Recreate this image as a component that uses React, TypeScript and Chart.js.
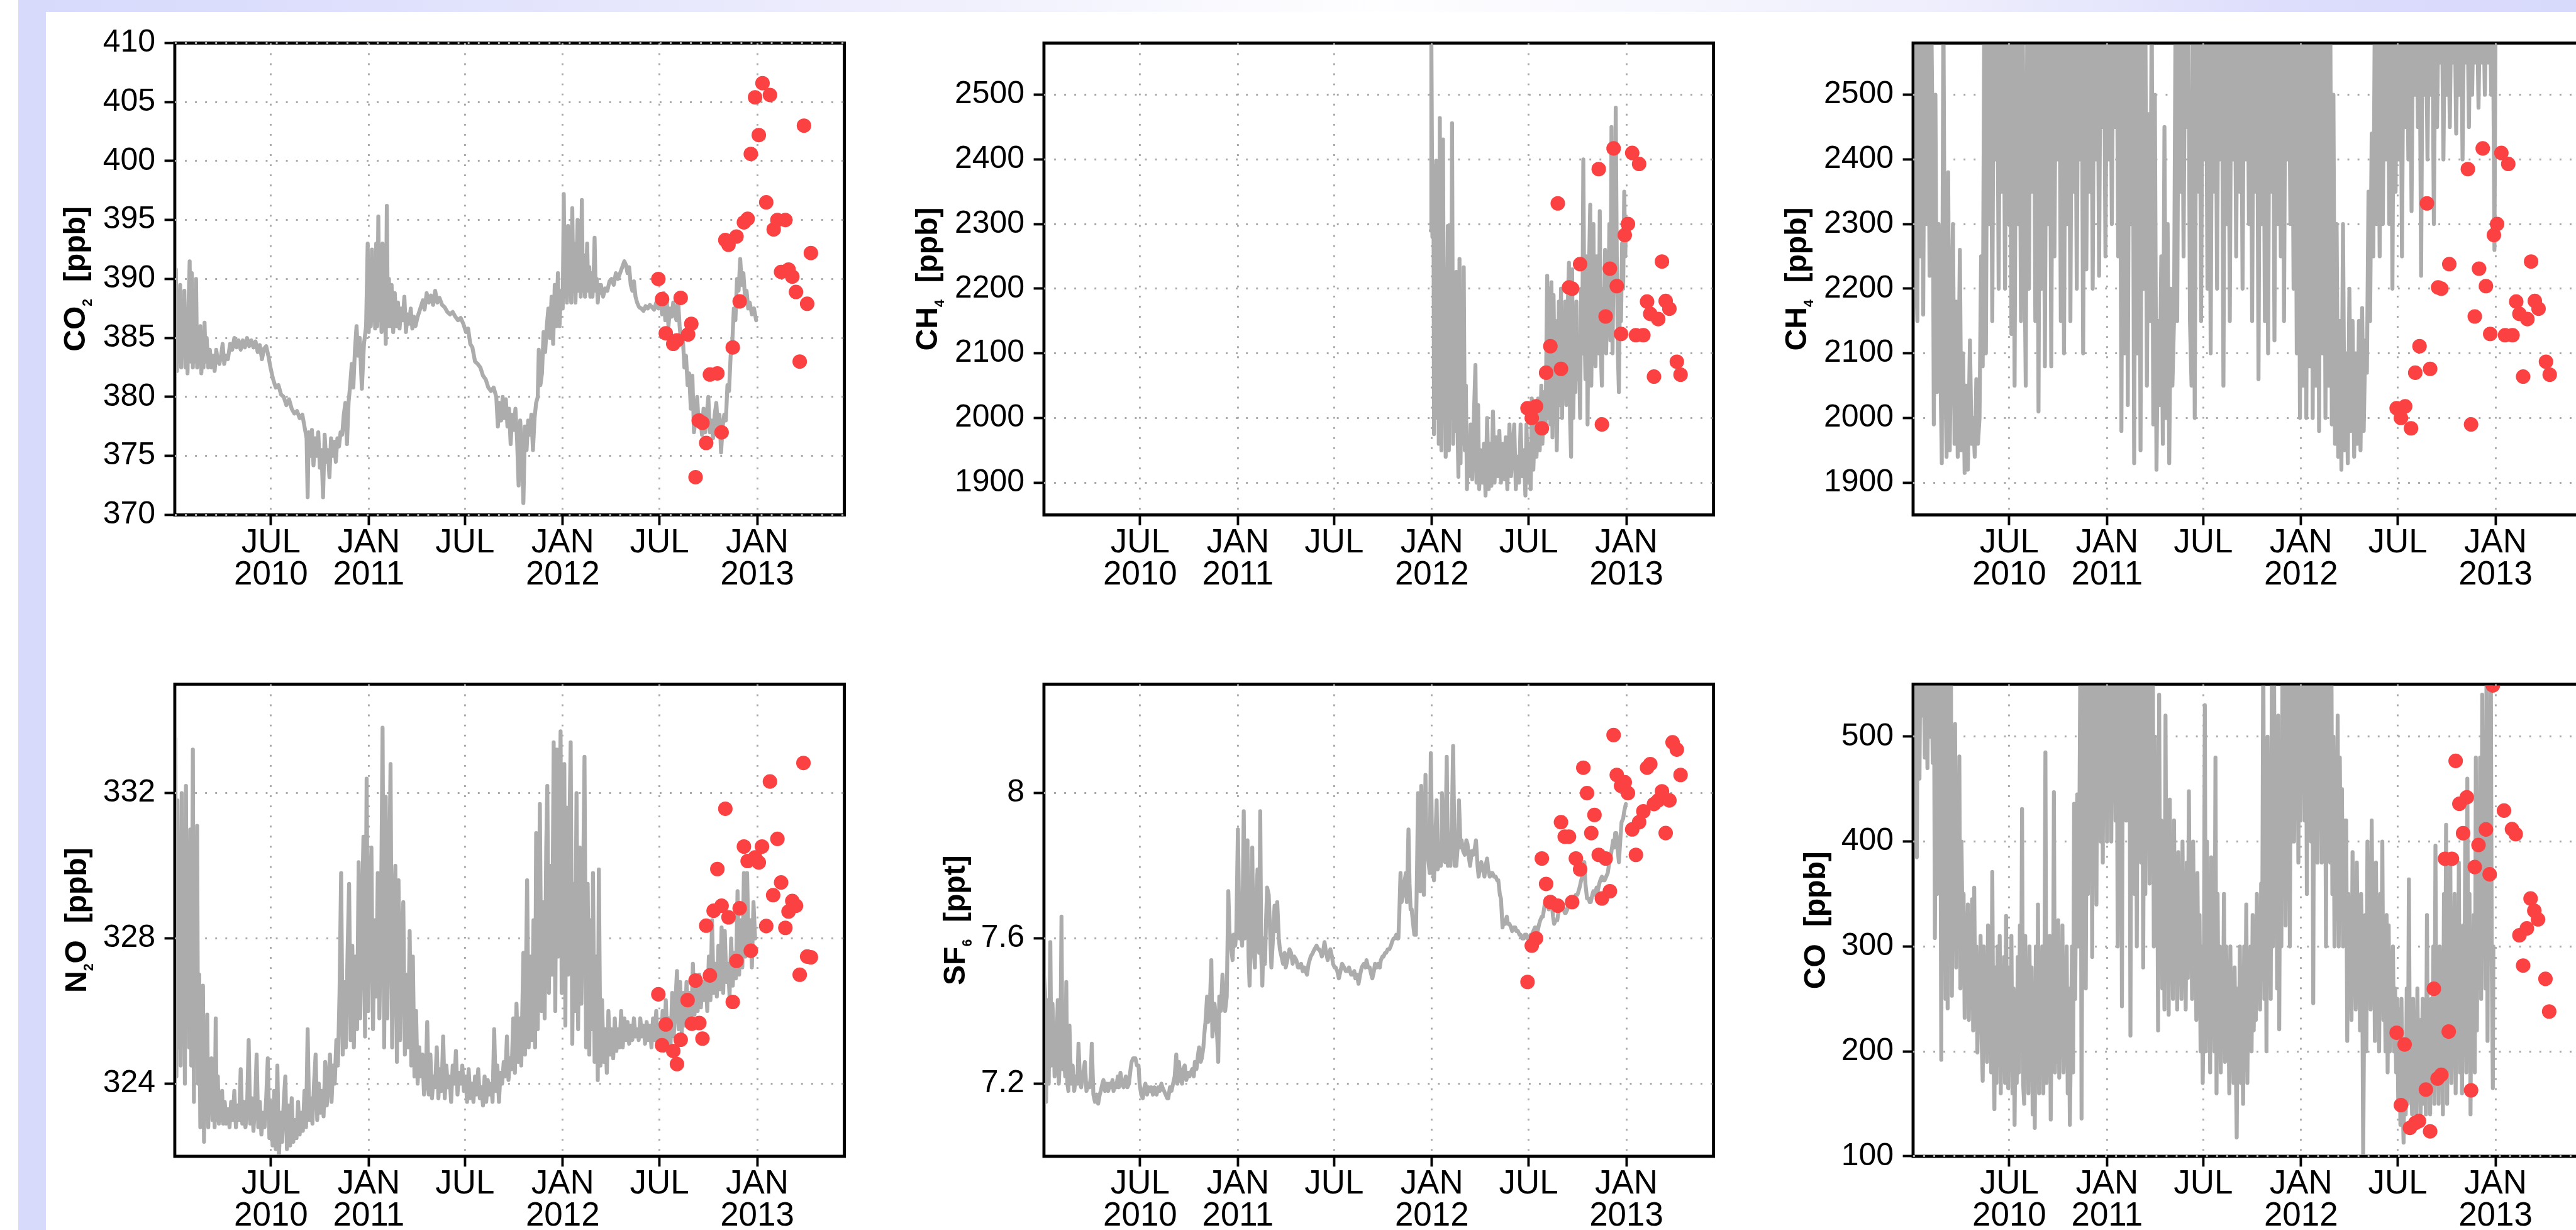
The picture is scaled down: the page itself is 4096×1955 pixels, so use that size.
import React, { useEffect, useRef } from 'react';
import { Chart, registerables } from 'chart.js';

Chart.register(...registerables);

const S = 4096 / 4259;
const FONT = '"Liberation Sans", Arial, Helvetica, sans-serif';
const GRAY = '#acacac';
const RED = '#fb4141';
const GRID = '#a9a9a9';
const LAV = '#d8dafc';

// layout in reference pixels
const COL_LEFT = [289, 1726, 3163];
const ROW_TOP = [70, 1130];
const PLOT_W = 1107;
const PLOT_H = 781;

// x axis: days since 2010-01-01
const X_MIN = 0;
const X_MAX = 1260;
const X_TICK_DAYS = [181, 365, 546, 730, 912, 1096];
const X_TICK_LABELS: (string | string[])[] = [['JUL', '2010'], ['JAN', '2011'], 'JUL', ['JAN', '2012'], 'JUL', ['JAN', '2013']];

// y ticks
const CO2_TICKS = [370, 375, 380, 385, 390, 395, 400, 405, 410];
const CH4_TICKS = [1900, 2000, 2100, 2200, 2300, 2400, 2500];
const N2O_TICKS = [324, 328, 332];
const SF6_TICKS = [7.2, 7.6, 8];
const CO_TICKS = [100, 200, 300, 400, 500];

// ---------- continuous records [day, value] ----------
const co2Line: [number, number][] = [
[0,386],[2,390.8],[4,382.2],[6,389],[8,383],[10,389.5],[12,382.5],[14,388],[16,383.5],[18,389],[20,382.5],[22,387],[24,382],[26,388],[28,391.5],[30,383],[32,390.5],[34,382.5],[36,388],[38,383],[40,390],[42,382.5],[44,385],[46,383],[48,386],[50,382],[52,384.5],[54,382.5],[56,386.3],[58,383],[60,385],
[63,382.5],[66,384],[69,382.5],[72,383.5],[75,382.2],[78,384],[81,383],[84,382.8],[87,383.5],[90,384.5],[93,382.8],[96,383.5],[100,383.2],
[104,384.5],[108,384],[112,385],[116,384.2],[120,384.8],[124,384],[128,384.8],[132,384.2],[136,385],[140,384.3],[144,384.8],[148,384.2],[152,384.7],[156,383.8],[160,384.4],[164,383.2],[168,384.1],[172,384.3],
[176,383.5],[180,382.5],[185,381.5],[190,380.8],[195,381],[200,380.2],[205,380],[210,379.3],[215,379.8],[220,379],[225,378.6],[230,378.8],[235,378.2],[240,378.5],[244,377.5],[248,376.5],[250,371.5],[252,377],
[255,375],[258,377.2],[261,374.2],[264,376.5],[267,375],[270,377],[273,374],[276,375.5],[279,371.5],[282,376.8],[285,374.5],[288,375.5],[291,373.2],[294,376.5],[297,375],[300,376.2],[303,374.5],[306,376.5],[309,375.8],[312,377],[315,376.8],
[318,378.5],[321,379.5],[324,376],[327,379.5],[330,381],[333,382.8],[336,380.8],[339,384],[342,386],[345,383.5],[348,385],[352,380.7],[356,384.5],[360,386],
[363,393],[365,385.5],[367,389],[369,386],[371,392.5],[373,386.5],[375,389],[377,385.8],[379,393],[381,386],[383,395.3],[385,386.5],[387,390],[389,385.5],[391,393],[393,386.5],[395,388.5],[397,384.5],[399,396.2],[401,386],[403,390],[405,386],[408,389.5],[411,385.5],[414,388.8],[417,386],[420,388],[423,385.8],[426,387.5],[429,386.5],[432,388.5],[435,385.5],[438,387],[441,386.2],[444,387.5],[447,385.8],[450,386.8],[453,386],
[457,386.8],[462,387.5],[467,388.2],[470,387.4],[474,388.8],[478,388],[482,388.6],[486,387.8],[490,389],[494,388],[498,388.4],[503,387.8],[508,387.6],[513,387.2],[518,387],[523,387.2],[528,386.8],[533,386.5],[538,386.7],[543,386.2],
[548,385.5],[552,385.8],[556,384.5],[560,384.2],[565,383],[570,382.8],[575,382.5],[580,381.8],[585,381.5],[590,380.8],[595,380.5],[600,380.8],[605,380],[608,377.5],
[611,379.5],[614,378],[617,380],[620,378.2],[623,379.8],[626,377.5],[629,379],[632,376],[635,378.5],[638,377.2],[641,379],[644,376.5],[647,372.5],[650,378],[653,375.5],[656,371],[659,377.5],[662,375.5],[665,378],[668,376.8],[671,378.5],[674,375.5],[677,378.2],[680,379.5],
[683,380],[685,384],[688,381],[691,382],[694,385.5],[697,383.8],[700,386],[703,387.5],[706,385],[709,388.5],[712,384.5],[715,389.5],[718,386],[721,390.5],[724,386],[727,389],[730,387.5],
[732,397.2],[734,388.5],[736,392],[738,388],[740,394.5],[742,389],[744,391],[746,388],[748,396],[750,389],[752,393],[754,388],[756,391.5],[758,395],[760,389],[762,392],[764,388.5],[766,396.7],[768,389],[770,392],[772,388.5],[774,390],[776,393],[778,389],[780,391],[782,388.5],[784,390.5],[786,388.5],[788,390],[790,393.5],[792,389],[794,390],[796,388],[798,389.5],[800,388.8],[802,389.5],
[806,388.5],[810,389.2],[814,389],[818,389.8],[822,390],[826,389.5],[830,390.5],[834,390],[838,390.5],[842,391],[846,391.5],[849,391.2],[852,390.5],[855,391],[858,389.5],[861,389],[864,389.8],[867,388.5],
[870,388],[874,387.6],[878,387.5],[882,387.3],[886,387.7],[890,387.5],[894,387.8],[898,387.6],[902,387.4],[906,388],[910,387.5],[914,388.3],
[917,387],[920,388.8],[923,386.5],[926,388],[929,386],[932,387.5],[935,386.8],[938,388],[941,387],[944,386.5],[947,388.3],[950,386],[953,384.5],[956,385],
[959,382.5],[962,383.5],[965,381],[968,382],[971,379],[974,381.8],[977,377],[980,378],[983,380],[986,377.5],[989,378.5],[992,376.8],[995,379],[998,377],[1001,378.5],[1004,380],[1007,377],[1010,378],[1013,376.5],[1016,378.5],[1019,379.5],[1022,377.5],[1025,378.5],[1028,375.3],[1031,377.5],[1034,378.5],[1037,378],
[1040,381],[1043,380.5],[1046,383.5],[1049,384.5],[1052,387.5],[1055,386.5],[1058,390],[1061,389],[1064,391.7],[1067,389.5],[1070,390.5],[1073,388.5],[1076,389],[1079,387.5],[1082,388],[1086,387],[1090,387.5],[1094,386.5]
];

const ch4LineA: [number, number][] = [
[728,2290],[729,2600],[731,2280],[733,2390],[734,1975],[736,2150],[738,2398],[740,2000],[742,2250],[743,1960],[745,2464],[747,2050],[748,1950],[750,2200],[751,2431],[753,2000],[755,2150],[756,1940],[758,2100],[760,2297],[762,1950],[764,2200],[766,2000],[768,2456],[770,1960],[772,2150],[774,1980],[776,2226],[778,2000],[780,1909],[782,2246],[784,1930],[786,2100],[788,1960],[790,2233],[792,1950],[794,2050],[796,1890],[798,1960],[800,1910],
[803,1990],[806,1905],[809,2000],[812,2082],[814,1900],[817,2020],[819,1890],[822,1950],[825,1900],[828,1960],[831,1880],[834,2000],[837,1890],[840,1960],[842,1895],[845,2010],[848,1900],[851,1970],[854,1910],[857,1980],[860,1900],[863,1960],[866,1905],[869,1970],[872,1890],[876,1990],[879,1910],[882,1950],[885,1990],[888,1890],[891,1940],[894,1900],[897,1990],[900,1910],[903,1950],[906,1880],[908,1990],[911,1900],[914,1960],[916,1890],[918,2030],[921,1920],[924,2000],[927,1940],[930,2030],[933,1950],
[936,2050],[938,1960],[941,2040],[944,1990],[947,2220],[949,2000],[951,2200],[953,1990],[955,2210],[957,1970],[959,2190],[961,2060],[963,2150],[965,1950],[967,2050],[969,2180],[971,2020],[973,2200],[975,2000],[977,2120],[979,2050],[981,2180],[983,2020],[985,2150],[988,2240],[990,2000],[992,1940],[994,2230],[996,2000],[998,2100],[1000,2040],[1002,2180],[1004,2060],[1007,2100],[1009,2000],[1011,2200],[1013,2100],[1015,2400],[1017,2150],[1019,2060],[1021,2250],[1023,1990],[1025,2200],[1028,2330],[1030,2050],[1032,2200],[1034,2300],[1036,2100],[1038,2080],[1040,2250],[1042,2150],[1044,2100],[1046,2320],[1048,2100],[1050,2050],[1052,2200],[1054,2150],[1056,2260],[1058,2100],[1060,2200],[1062,2150],[1064,2300],[1066,2120],[1068,2450],[1070,2100],[1072,2250],[1074,2200],[1076,2480],[1078,2250],[1080,2100],[1082,2040],[1084,2200],[1086,2150],[1088,2270],[1090,2200],[1092,2350],[1094,2250],[1095,2300]
];

const ch4LineB: [number, number][] = [
[0,2300],[2,2650],[5,2250],[8,2150],[10,2650],[13,2250],[16,2650],[19,2160],[22,2650],[25,2300],[28,2650],[31,2220],[34,2650],[37,2400],[39,1990],[42,2500],[45,2040],[48,2300],[51,2100],[54,1930],[57,2650],[60,2100],[63,1940],[66,2380],[69,1950],[72,2150],[75,2300],[78,1960],[81,2180],[84,1940],[88,2260],[91,1950],[94,2100],[97,1915],[100,2050],[103,1920],[107,2120],[110,1960],[113,2000],[116,1940],[119,2060],[122,1960],[125,2000],[128,2250],[131,2080],[134,2650],[137,2100],[140,2650],[143,2300],[146,2650],[149,2150],[152,2650],[155,2400],[158,2650],[161,2200],[164,2650],[167,2350],[170,2650],[173,2200],[176,2650],[179,2300],[182,2650],[185,2130],[188,2650],[191,2050],[194,2650],[197,2300],[200,2650],[203,2150],[206,2650],[209,2300],[212,2050],[215,2650],[218,2200],[221,2650],[224,2350],[227,2650],[230,2150],[233,2650],[236,2010],[239,2650],[242,2200],[245,2650],[248,2080],[251,2650],[254,2300],[257,2650],[260,2080],[263,2650],[266,2250],[269,2650],[272,2400],[275,2650],[278,2150],[281,2650],[284,2100],[287,2650],[290,2300],[293,2650],[296,2150],[299,2650],[302,2350],[305,2650],[308,2200],[311,2650],[314,2400],[317,2650],[320,2100],[323,2650],[326,2230],[329,2650],[332,2350],[335,2650],[338,2200],[341,2650],[344,2400],[347,2650],[350,2220],[353,2650],[356,2450],[359,2650],[362,2250],[365,2650],[368,2400],[371,2650],[374,2300],[377,2650],[380,2450],[383,2650],[386,2250],[389,2650],
[392,1980],[395,2650],[398,2100],[401,2650],[404,2020],[407,2650],[410,2300],[413,2650],[416,1930],[419,2650],[422,2100],[425,2650],[428,1950],[431,2650],[434,2200],[437,2650],[440,2050],[443,2470],[446,2150],[449,2650],[452,1990],[455,2500],[458,1920],[461,2150],[464,2020],[467,2250],[470,1960],[473,2450],[476,2000],[479,2300],[482,1930],[485,2200],[488,2050],[491,2150],[494,2650],
[497,2150],[500,2650],[503,2350],[506,2650],[509,2250],[512,2650],[515,2450],[518,2650],[521,2150],[524,2050],[527,2650],[530,2000],[533,2650],[536,2350],[539,2650],[542,2150],[545,2650],[548,2400],[551,2650],[554,2200],[557,2650],[560,2100],[563,2650],[566,2350],[569,2650],[572,2200],[575,2650],[578,2400],[581,2650],[584,2050],[587,2650],[590,2300],[593,2650],[596,2150],[599,2650],[602,2400],[605,2650],[608,2250],[611,2650],[614,2350],[617,2650],[620,2200],[623,2650],[626,2400],[629,2650],[632,2300],[635,2650],[638,2150],[641,2650],[644,2350],[647,2650],[650,2060],[653,2650],[656,2300],[659,2650],[662,2150],[665,2650],[668,2100],[671,2650],[674,2350],[677,2650],[680,2120],[683,2650],[686,2300],[689,2650],[692,2250],[695,2650],[698,2150],[701,2650],[704,2400],[707,2650],[710,2300],[713,2650],
[716,2200],[719,2650],[722,2100],[725,2650],[728,2000],[731,2650],[734,2050],[737,2650],[740,2000],[743,2650],[746,2080],[749,2650],[752,2000],[755,2650],[758,2050],[761,2650],[764,1980],[767,2650],[770,2100],[773,2650],[776,2000],[779,2650],[782,2050],[785,2650],[788,1990],[791,2500],[794,1960],[797,2300],[800,1940],[803,2150],[806,1920],[809,2300],[812,1950],[815,2100],[818,1930],[821,2200],[824,1980],[827,2150],[830,1940],[833,2100],[836,1960],[839,2150],[842,1950],[845,2170],[848,1980],[851,2120],[854,2070],
[857,2350],[860,2150],[863,2440],[866,2250],[869,2650],[872,2300],[875,2650],[878,2250],[881,2650],[884,2300],[887,2650],[890,2400],[893,2650],[896,2300],[899,2650],[902,2200],[905,2650],[908,2350],[911,2650],
[914,2400],[917,2650],[920,2250],[923,2650],[926,2450],[929,2650],[932,2400],[935,2650],[938,2320],[941,2650],[944,2500],[947,2650],[950,2450],[953,2650],[956,2220],[959,2650],[962,2500],[965,2650],[968,2400],[971,2650],[974,2500],[977,2650],[980,2300],[983,2650],[986,2450],[989,2650],[992,2550],[995,2650],[998,2400],[1001,2650],[1004,2500],[1007,2650],[1010,2450],[1013,2650],[1016,2550],[1019,2650],[1022,2440],[1025,2650],[1028,2500],[1031,2650],[1034,2400],[1037,2650],[1040,2550],[1043,2650],[1046,2450],[1049,2650],[1052,2500],[1055,2650],[1058,2550],[1061,2650],[1064,2480],[1067,2650],[1070,2550],[1073,2650],[1076,2500],[1079,2650],[1082,2550],[1085,2650],[1088,2500],[1091,2650],[1094,2260],[1096,2600]
];

const n2oLine: [number, number][] = [
[0,326],[1,333.5],[3,324.2],[5,331.8],[7,325],[9,330.5],[11,324.5],[13,332],[15,325.5],[17,329],[19,324],[21,332.2],[23,326],[25,330],[27,325],[29,331],[31,324.5],[34,333.2],[36,323.5],[38,329.5],[40,325],[42,331.1],[44,324],[46,327],[48,322.8],[50,326.5],
[51,323.5],[53,326.7],[55,322.4],[57,325.5],[59,323],[61,325.9],[63,322.8],[65,324.5],[67,323.5],[69,324.7],[71,323],[73,324],[75,322.8],[77,325.8],[79,323],[81,324.2],[83,322.9],[85,323.6],[87,323],[89,323.8],[91,322.9],
[94,323.5],[97,322.9],[100,323.3],[103,322.8],[106,323.5],[109,323],[112,323.8],[115,322.8],[118,323.4],[121,323],[124,324.4],[127,322.9],[130,323.5],[133,322.8],[136,323.3],[139,325.2],[142,322.9],[145,323.6],[148,322.7],[151,323.4],[154,324.8],[157,322.8],[160,323.5],[163,322.6],[166,323.2],[169,322.8],[172,323.6],[175,324.7],[178,322.5],[181,323.5],[184,322.3],[187,323.8],[190,322.2],[193,324.5],[196,322],[199,323.2],[202,322.4],[205,323.5],[208,324.2],[211,322.2],[214,323.4],[217,322.3],[220,323.6],[223,322.4],[226,323],[229,322.5],[232,323.5],[235,322.6],[238,323.2],[241,322.7],[244,323.8],[247,322.8],[250,325.5],[253,323],[256,323.6],[259,322.9],[262,324],[265,324.8],[268,323],[271,324],[274,323.2],[277,323.8],[280,323.1],[283,324.6],[286,323.4],[289,324],[292,324.8],[295,323.5],[298,324.5],
[301,324],[304,325.2],[307,324.5],[310,326.5],[313,329.8],[316,324.8],[319,326.8],[322,325],[325,327.5],[328,329.5],[331,325.2],[334,327.8],[337,325],[340,327.5],[343,325.5],[346,330.1],[349,325.8],[352,328.5],[355,330.8],[358,325.3],[361,332.4],[364,326],[367,329],[370,330.5],[373,325.5],[376,328.5],[379,326.4],[382,329.8],[385,325.8],[388,328.5],[391,333.8],[394,325],[397,331.9],[400,325.8],[403,329],[406,332.8],[409,325],[412,328],[415,330],[418,324.6],[421,329.6],[424,325.2],[427,328],[430,329],[433,324.8],[436,327],[439,325],[442,328.2],[445,324.5],[448,327.5],[451,324.2],[454,326],[457,324],[460,325],[463,324.2],[466,324.8],[469,323.7],
[472,324],[475,325.7],[478,323.7],[481,324.8],[484,323.6],[487,324.2],[490,323.9],[493,325],[496,323.6],[499,324.4],[502,323.8],[505,325.3],[508,323.6],[511,324.5],[514,323.9],[517,324.2],[520,323.5],[523,324.5],[526,324],[529,324.9],[532,323.7],[535,324.3],[538,324],[541,324.5],[544,323.8],[547,324.2],[550,323.5],[553,324.4],[556,323.6],[559,324],[562,323.5],[565,324.2],[568,323.7],[571,324.4],[574,323.6],[577,323.9],[580,323.4],[583,324.2],[586,323.5],[589,324.1],[592,323.7],[595,324],[598,323.5],[601,325.5],[604,323.8],[607,324.5],[610,323.5],[613,324.3],[616,324],[619,324.6],
[622,324.2],[625,325.3],[628,324.1],[631,324.7],[634,324.4],[637,325.8],[640,324.3],[643,326.2],[646,324.6],[649,325.8],[652,324.5],[656,327.6],[659,324.8],[663,329.6],[666,325],[669,327.5],[672,325.2],[675,328.5],[678,325],[680,330.9],[683,325.5],[687,331.7],[690,326],[693,329],[696,325.8],[699,330.5],[701,332.2],[704,326.5],[707,330],[710,327],[713,333.4],[716,326],[719,333.2],[721,327.5],[723,330.5],[726,333.7],[728,326.5],[731,330],[733,332.8],[735,325.6],[737,331.6],[740,327],[742,330.5],[745,333.4],[748,325.1],[751,329.5],[753,326],[756,332],[759,325.5],[762,330.5],[765,326.2],[768,329],[771,333],[774,325],[777,329.5],[780,324.8],[782,328.5],[785,325.5],[787,329.8],[790,324.6],[793,327.5],[796,324.1],[798,329.9],[801,324.5],
[804,326.3],[807,324.6],[810,325.5],[813,324.3],[816,326],[819,324.8],[822,325.5],[825,324.7],[828,325.8],[831,324.9],[834,325.5],[837,325],[840,326],[843,325],[846,325.8],[849,325.2],[852,325.7],[855,325.1],[858,325.6],[861,325.2],[864,325.8],[867,325.3],[870,325.5],[873,325.2],[876,325.8],[879,325.3],[882,325.6],[885,325.1],[888,325.7],[891,325.2],[894,325.6],[897,325],[900,325.8],[903,325.2],[906,326],[909,325],[912,325.6],
[915,325],[918,326],[921,324.9],[924,326.3],[927,325.2],[930,325.8],[933,325.1],[936,326.5],[939,325.3],[942,326.2],[945,327.1],[948,325.5],[951,326.8],[954,325.4],[957,326.5],[960,325.6],[963,326.8],[966,325.8],[969,326.5],[972,325.7],[975,327.3],[978,325.9],[981,326.7],[984,326],[987,327],[990,326.1],[993,326.8],[996,326.3],[999,327],[1002,326],[1005,327.5],[1008,326.3],[1011,328.5],[1014,326.5],[1017,327.3],[1020,326.4],[1023,327.8],[1026,326.6],[1029,328.3],[1032,326.5],[1035,328.2],[1038,326.8],[1041,327.3],[1044,326.4],[1047,328],[1050,326.7],[1053,327.6],[1056,326.9],[1059,329.3],[1062,327],[1065,328.5],[1068,327.2],[1071,329.8],[1074,327.5],[1077,329.8],[1080,327.6],[1083,328.5],[1086,327.2],[1089,329],[1092,328]
];

const sf6Line: [number, number][] = [
[0,7.5],[2,7.45],[4,7.15],[7,7.43],[9,7.2],[12,7.59],[14,7.25],[16,7.42],[18,7.35],[20,7.22],[23,7.26],[26,7.43],[28,7.2],[31,7.3],[33,7.66],[35,7.24],[37,7.29],[40,7.22],[42,7.48],[44,7.2],[46,7.18],[48,7.36],[51,7.2],[54,7.25],[57,7.18],[60,7.22],[63,7.2],[65,7.31],[68,7.2],[70,7.19],[73,7.22],[77,7.26],[80,7.18],[83,7.2],[86,7.19],[88,7.22],[90,7.31],[93,7.17],[96,7.15],[99,7.17],[102,7.145],[105,7.17],[107,7.18],[110,7.2],[112,7.21],[115,7.18],[118,7.2],[121,7.18],[123,7.2],[126,7.19],[129,7.21],[131,7.18],[133,7.2],[136,7.19],[139,7.22],[141,7.19],[144,7.23],[147,7.2],[150,7.19],[154,7.22],[157,7.19],[160,7.2],[163,7.24],[165,7.26],[168,7.27],[172,7.27],[175,7.25],[178,7.25],[180,7.2],[183,7.17],[186,7.16],[189,7.19],[191,7.2],[194,7.17],[197,7.19],[200,7.18],[202,7.19],[205,7.17],[208,7.19],[212,7.17],[215,7.19],[218,7.18],[221,7.2],[223,7.19],[226,7.18],[229,7.17],[232,7.16],[234,7.16],[237,7.19],[240,7.18],[243,7.2],[246,7.22],[249,7.28],[251,7.2],[254,7.26],[257,7.21],[260,7.2],[262,7.24],[265,7.25],[268,7.21],[271,7.23],[274,7.22],[276,7.23],[279,7.24],[282,7.22],[284,7.26],[287,7.24],[290,7.28],[292,7.3],[295,7.26],[297,7.27],[300,7.3],[302,7.34],[304,7.37],[307,7.44],[309,7.37],[311,7.39],[313,7.45],[315,7.54],[317,7.33],[319,7.37],[321,7.42],[323,7.39],[326,7.33],[328,7.26],[330,7.44],[333,7.4],[336,7.5],[338,7.45],[341,7.4],[344,7.44],[347,7.73],[349,7.62],[352,7.58],[355,7.54],[357,7.61],[360,7.58],[362,7.62],[365,7.9],[368,7.6],[370,7.63],[373,7.58],[376,7.95],[378,7.6],[381,7.62],[383,7.87],[385,7.55],[387,7.47],[389,7.6],[392,7.85],[394,7.58],[397,7.52],[399,7.7],[402,7.79],[405,7.56],[407,7.95],[409,7.55],[411,7.47],[413,7.6],[416,7.53],[418,7.65],[420,7.74],[423,7.72],[426,7.6],[428,7.52],[431,7.6],[434,7.69],[436,7.62],[439,7.7],[442,7.6],[444,7.57],[447,7.55],[450,7.53],[453,7.56],[455,7.52],[458,7.54],[462,7.57],[465,7.56],[468,7.53],[471,7.55],[475,7.54],[478,7.52],[481,7.52],[484,7.53],[487,7.51],[490,7.52],[495,7.5],[498,7.53],[502,7.55],[506,7.56],[509,7.57],[513,7.58],[516,7.57],[518,7.57],[521,7.56],[523,7.55],[526,7.57],[528,7.59],[531,7.56],[534,7.54],[537,7.56],[539,7.57],[542,7.55],[544,7.53],[547,7.52],[549,7.52],[552,7.51],[555,7.49],[558,7.51],[561,7.53],[565,7.52],[568,7.51],[571,7.51],[574,7.52],[578,7.5],[581,7.5],[584,7.51],[586,7.49],[589,7.5],[592,7.475],[595,7.5],[598,7.52],[602,7.53],[605,7.52],[607,7.54],[610,7.52],[613,7.52],[616,7.5],[618,7.49],[621,7.51],[623,7.53],[626,7.52],[629,7.53],[632,7.52],[634,7.54],[637,7.55],[639,7.55],[642,7.56],[644,7.56],[647,7.57],[650,7.57],[653,7.58],[655,7.59],[658,7.6],[660,7.6],[663,7.61],[665,7.6],[667,7.6],[669,7.68],[671,7.78],[673,7.7],[676,7.72],[678,7.75],[681,7.78],[683,7.7],[686,7.9],[688,7.75],[690,7.68],[692,7.68],[694,7.65],[697,7.61],[700,7.61],[702,7.78],[704,8.0],[706,7.8],[708,7.73],[710,8.02],[712,7.76],[715,7.72],[718,8.05],[720,7.85],[723,7.82],[726,7.78],[728,8.11],[731,7.8],[734,7.76],[736,7.85],[739,7.98],[741,7.79],[744,7.81],[747,7.8],[749,8.0],[752,7.82],[755,7.81],[758,8.1],[760,7.8],[762,7.81],[765,7.8],[768,7.95],[770,8.13],[773,7.8],[776,7.8],[779,7.86],[781,7.98],[784,7.85],[786,7.87],[789,7.84],[792,7.83],[795,7.87],[797,7.86],[800,7.82],[802,7.8],[805,7.84],[808,7.83],[811,7.85],[813,7.87],[816,7.8],[818,7.77],[821,7.8],[823,7.81],[826,7.79],[829,7.77],[831,7.8],[834,7.82],[836,7.79],[839,7.77],[842,7.78],[844,7.78],[847,7.77],[850,7.77],[853,7.76],[855,7.76],[858,7.72],[860,7.71],[863,7.63],[865,7.65],[868,7.64],[871,7.66],[873,7.64],[876,7.64],[879,7.63],[881,7.62],[884,7.63],[887,7.63],[889,7.62],[892,7.62],[895,7.61],[897,7.61],[900,7.6],[903,7.6],[905,7.61],[908,7.61],[910,7.6],[913,7.6],[916,7.61],[918,7.61],[921,7.62],[924,7.63],[926,7.63],[929,7.62],[932,7.64],[934,7.65],[937,7.66],[939,7.66],[942,7.69],[945,7.71],[947,7.7],[950,7.68],[952,7.7],[955,7.71],[958,7.66],[960,7.64],[963,7.65],[966,7.65],[968,7.67],[971,7.68],[974,7.69],[977,7.69],[980,7.67],[982,7.67],[985,7.68],[988,7.7],[990,7.7],[992,7.7],[995,7.7],[998,7.71],[1001,7.72],[1004,7.72],[1006,7.73],[1008,7.74],[1011,7.76],[1013,7.77],[1015,7.8],[1017,7.81],[1019,7.75],[1022,7.71],[1025,7.71],[1027,7.7],[1029,7.7],[1032,7.72],[1034,7.73],[1037,7.72],[1040,7.74],[1042,7.73],[1045,7.75],[1047,7.76],[1050,7.77],[1052,7.76],[1055,7.76],[1058,7.77],[1061,7.78],[1063,7.8],[1066,7.82],[1068,7.84],[1071,7.87],[1073,7.85],[1075,7.89],[1077,7.89],[1080,7.84],[1082,7.81],[1085,7.88],[1087,7.92],[1090,7.93],[1092,7.95],[1095,7.97]
];

const coLine: [number, number][] = [
[0,600],[2,400],[4,600],[7,385],[9,600],[12,460],[14,600],[17,520],[19,600],[22,480],[24,600],[27,470],[29,600],[32,500],[34,600],[37,475],[39,600],
[41,308],[43,470],[45,350],[47,600],[49,420],[51,550],[53,192],[55,600],[57,300],[59,600],[61,250],[63,600],[65,241],[67,480],[69,330],[71,600],[73,253],[75,450],[77,300],[79,512],[81,280],[83,460],[85,300],[87,481],[89,260],[91,400],[93,320],[95,350],
[97,232],[99,330],[101,260],[103,340],[105,230],[107,320],[109,280],[111,345],[113,220],[115,356],[117,240],[119,300],[121,199],[123,290],[125,230],[127,310],[129,210],[131,172],[133,300],[135,200],[137,280],[139,190],[141,320],[143,220],[145,260],[147,180],[149,371],[151,200],[153,145],[155,280],[157,170],[159,300],[161,190],[163,310],[165,160],[167,260],[169,200],[171,290],[173,170],
[175,329],[177,200],[179,165],[181,280],[183,200],[185,310],[187,160],[189,260],[191,130],[193,250],[195,170],[197,290],[199,180],[201,320],[203,200],[205,431],[207,170],[209,150],[211,310],[213,200],[215,260],[217,160],[219,300],[221,190],[223,280],[225,140],[227,250],[229,127],[231,300],[233,180],[235,340],[237,160],[239,260],[241,200],[243,300],[245,160],[247,250],[249,485],[251,170],[253,290],[255,200],[257,310],[259,135],[261,260],[263,200],[265,447],[267,180],[269,300],[271,190],[273,325],[275,175],[277,280],[279,200],[281,320],[283,180],[285,250],[287,200],[289,300],[291,160],[293,260],[295,130],[297,210],[299,300],[301,180],
[303,436],[305,250],[307,380],[309,445],[311,300],[313,420],[315,600],[317,136],[319,410],[321,300],[323,600],[325,260],[327,520],[329,350],[331,600],[333,420],[335,600],[337,290],[339,600],[341,450],[343,600],[345,340],[347,600],[349,480],[351,600],[353,400],[355,600],[357,380],[359,600],[361,450],[363,600],[365,400],[367,600],[369,500],
[371,600],[373,400],[375,600],[377,470],[379,600],[381,420],[383,600],[385,300],[387,600],[389,480],[391,600],[393,243],[395,600],[397,430],[399,600],[401,420],[403,600],[405,500],[407,600],[409,215],[411,600],[413,450],[415,600],[417,350],[419,600],[421,300],[423,600],[425,460],[427,600],[429,380],[431,600],[433,280],[435,550],[437,350],[439,600],[441,420],[443,600],[445,360],[447,550],[449,420],[451,600],[453,300],[455,500],[457,350],[459,460],
[461,220],[463,540],[465,300],[467,420],[469,260],[471,380],[473,240],[475,520],[477,300],[479,400],[481,235],[483,440],[485,280],[487,360],[489,250],[491,420],[493,300],[495,380],[497,240],[499,390],[501,280],[503,350],[505,250],[507,400],[509,280],[511,330],[513,240],[515,380],[517,270],[519,448],[521,300],[523,360],[525,250],[527,400],[529,280],[531,350],[533,230],[535,370],[537,260],[539,330],[541,200],[543,300],[545,170],[547,250],
[549,530],[551,200],[553,400],[555,240],[557,330],[559,180],[561,385],[563,230],[565,300],[567,200],[569,480],[571,160],[573,350],[575,220],[577,300],[579,180],[581,280],[583,210],[585,350],[587,190],[589,300],[591,230],[593,270],[595,160],[597,300],[599,200],[601,250],[603,170],[605,280],[607,200],[609,118],[611,260],[613,200],[615,300],[617,170],[619,240],[621,150],[623,300],[625,200],[627,340],[629,170],[631,280],[633,210],[635,300],[637,200],[639,330],[641,220],[643,280],[645,230],[647,350],[649,250],[651,300],[653,240],[655,360],
[657,300],[659,600],[661,250],[663,450],[665,200],[667,500],[669,280],[671,420],[673,250],[675,550],[677,300],[679,600],[681,350],[683,470],[685,260],[687,520],[689,221],[691,450],[693,300],[695,550],[697,350],[699,600],[701,320],[703,500],[705,380],[707,600],[709,300],[711,550],[713,400],[715,600],
[717,400],[719,600],[721,450],[723,600],[725,380],[727,600],[729,420],[731,600],[733,480],[735,600],[737,420],[739,600],[741,350],[743,600],[745,450],[747,600],[749,400],[751,600],[753,246],[755,600],[757,430],[759,600],[761,380],[763,600],[765,500],[767,600],[769,380],[771,600],[773,420],[775,550],[777,300],[779,600],[781,400],[783,550],[785,380],[787,600],[789,350],[791,500],[793,300],[795,450],[797,380],[799,520],[801,300],[803,480],[805,350],[807,450],[809,300],[811,420],[813,330],
[815,420],[817,210],[819,350],[821,280],[823,340],[825,230],[827,390],[829,260],[831,320],[833,240],[835,380],[837,280],[839,330],[841,220],[843,350],[845,300],[847,100],[849,250],[851,330],[853,200],[855,400],[857,280],[859,380],[861,240],[863,420],[865,300],[867,350],[869,210],[871,380],[873,260],[875,320],[877,200],[879,350],[881,250],[883,400],[885,230],[887,300],[889,200],[891,330],[893,180],[895,320],[897,200],[899,280],[901,240],[903,300],[905,200],[907,260],[909,180],[911,250],[913,150],
[915,240],[917,130],[919,250],[921,160],[923,113],[925,200],[927,140],[929,260],[931,150],[933,364],[935,170],[937,200],[939,140],[941,250],[943,160],[945,210],[947,130],[949,260],[951,170],[953,230],[955,140],[957,180],[959,250],[961,150],[963,200],[965,140],[967,330],[969,160],[971,230],[973,140],[975,250],[977,180],[979,300],[981,150],[983,396],[985,170],[987,230],[989,150],[991,300],[993,180],[995,260],[997,140],[999,350],[1001,200],[1003,416],[1005,150],[1007,300],[1009,200],[1011,380],[1013,170],[1015,260],[1017,200],[1019,350],[1021,160],[1023,300],[1025,200],[1027,380],[1029,180],[1031,280],[1033,160],[1035,320],[1037,200],[1039,400],[1041,180],[1043,460],[1045,220],[1047,350],[1049,140],[1051,300],[1053,200],[1055,330],[1057,180],[1059,480],[1061,220],[1063,400],[1065,260],[1067,480],[1069,250],[1071,540],[1073,300],[1075,450],[1077,260],[1079,550],[1081,210],[1083,500],[1085,300],[1087,600],[1089,280],[1091,165],[1092,300]
];

// ---------- flask samples [day, value] ----------
const co2Dots: [number, number][] = [
[910,390.0],[917,388.3],[924,385.4],[938,384.5],[945,384.8],[952,388.4],[966,385.3],[972,386.2],[980,373.2],[986,378.0],[993,377.8],[1000,376.1],[1007,381.9],[1021,382.0],[1029,377.0],[1036,393.3],[1042,392.9],[1050,384.2],[1057,393.6],[1063,388.1],[1071,394.8],[1078,395.1],[1084,400.6],[1092,405.4],[1099,402.2],[1106,406.6],[1113,396.5],[1120,405.6],[1127,394.2],[1134,395.0],[1141,390.6],[1149,395.0],[1155,390.8],[1162,390.2],[1169,388.9],[1176,383.0],[1184,403.0],[1190,387.9],[1197,392.2]
];
const ch4Dots: [number, number][] = [
[910,2015],[918,2000],[926,2018],[937,1984],[945,2070],[953,2111],[967,2332],[973,2076],[988,2202],[994,2200],[1009,2238],[1044,2385],[1050,1990],[1057,2157],[1065,2231],[1072,2417],[1078,2204],[1086,2130],[1093,2283],[1099,2300],[1107,2410],[1114,2128],[1120,2393],[1128,2128],[1135,2180],[1141,2161],[1148,2064],[1156,2153],[1163,2242],[1170,2181],[1177,2169],[1191,2087],[1198,2067]
];
const n2oDots: [number, number][] = [
[910,326.46],[917,325.06],[924,325.63],[938,324.9],[945,324.54],[952,325.21],[965,326.3],[973,325.65],[980,326.84],[987,325.67],[993,325.24],[1000,328.35],[1007,326.98],[1014,328.76],[1021,329.91],[1029,328.9],[1036,331.57],[1042,328.58],[1050,326.25],[1057,327.38],[1063,328.83],[1071,330.53],[1078,330.13],[1084,327.66],[1092,330.23],[1099,330.09],[1105,330.53],[1113,328.34],[1120,332.32],[1126,329.19],[1134,330.74],[1141,329.54],[1149,328.29],[1155,328.74],[1162,329.03],[1169,328.9],[1176,327.0],[1183,332.83],[1190,327.5],[1197,327.48]
];
const sf6Dots: [number, number][] = [
[910,7.48],[918,7.58],[926,7.60],[937,7.82],[945,7.75],[953,7.70],[967,7.69],[973,7.92],[980,7.88],[988,7.88],[994,7.70],[1001,7.82],[1009,7.79],[1015,8.07],[1022,8.0],[1030,7.89],[1036,7.94],[1044,7.83],[1050,7.71],[1057,7.82],[1065,7.73],[1072,8.16],[1078,8.05],[1086,8.02],[1093,8.03],[1099,8.0],[1107,7.9],[1114,7.83],[1120,7.92],[1128,7.95],[1135,8.07],[1141,8.08],[1148,7.97],[1156,7.98],[1163,8.005],[1170,7.89],[1177,7.98],[1183,8.14],[1191,8.12],[1198,8.05]
];
const coDots: [number, number][] = [
[910,217.8],[918,148.8],[925,206.6],[935,127.1],[945,131.8],[952,133.6],[965,163.6],[973,123.8],[980,259.7],[987,174.1],[994,177.7],[1001,383.6],[1008,218.9],[1014,383.6],[1021,476.9],[1028,436.0],[1035,407.9],[1042,442.2],[1050,162.9],[1057,375.7],[1064,396.7],[1078,411.5],[1085,368.8],[1091,548.8],[1112,429.5],[1127,411.8],[1134,407.1],[1141,310.7],[1148,281.8],[1155,317.2],[1162,345.7],[1169,334.1],[1176,325.8],[1190,269.1],[1197,238.0]
];

type Seg = { t: string; sub?: boolean };
interface PanelDef {
  id: string;
  col: number;
  row: number;
  title: Seg[];
  titleOff: number;
  yMin: number;
  yMax: number;
  yTicks: number[];
  line: [number, number][];
  dots: [number, number][];
}

const PANELS: PanelDef[] = [
  { id: 'co2', col: 0, row: 0, title: [{ t: 'CO' }, { t: '2', sub: true }, { t: '  [ppb]' }], titleOff: 149, yMin: 370, yMax: 410, yTicks: CO2_TICKS, line: co2Line, dots: co2Dots },
  { id: 'ch4a', col: 1, row: 0, title: [{ t: 'CH' }, { t: '4', sub: true }, { t: '  [ppb]' }], titleOff: 177, yMin: 1850, yMax: 2580, yTicks: CH4_TICKS, line: ch4LineA, dots: ch4Dots },
  { id: 'ch4b', col: 2, row: 0, title: [{ t: 'CH' }, { t: '4', sub: true }, { t: '  [ppb]' }], titleOff: 177, yMin: 1850, yMax: 2580, yTicks: CH4_TICKS, line: ch4LineB, dots: ch4Dots },
  { id: 'n2o', col: 0, row: 1, title: [{ t: 'N' }, { t: '2', sub: true }, { t: 'O  [ppb]' }], titleOff: 147, yMin: 322, yMax: 335, yTicks: N2O_TICKS, line: n2oLine, dots: n2oDots },
  { id: 'sf6', col: 1, row: 1, title: [{ t: 'SF' }, { t: '6', sub: true }, { t: '  [ppt]' }], titleOff: 131, yMin: 7.0, yMax: 8.3, yTicks: SF6_TICKS, line: sf6Line, dots: sf6Dots },
  { id: 'co', col: 2, row: 1, title: [{ t: 'CO  [ppb]' }], titleOff: 146, yMin: 100, yMax: 550, yTicks: CO_TICKS, line: coLine, dots: coDots },
];

function PanelChart({ p }: { p: PanelDef }) {
  const ref = useRef<HTMLCanvasElement>(null);
  const PL = COL_LEFT[p.col] * S;
  const PT = ROW_TOP[p.row] * S;
  const PW = PLOT_W * S;
  const PH = PLOT_H * S;
  const x0 = Math.floor(PL - 290 * S);
  const y0 = Math.floor(PT - 45 * S);
  const cw = Math.ceil(PL + PW + 30 * S - x0);
  const ch = Math.ceil(PT + PH + 150 * S - y0);
  const yAxisW = PL - x0;
  const padTop = PT - y0;
  const padRight = cw - (PL + PW - x0);
  const xAxisH = ch - padTop - PH;

  useEffect(() => {
    const canvas = ref.current;
    if (!canvas) return;
    const framePlugin = {
      id: 'frame' + p.id,
      beforeDraw(chart: any) {
        const { ctx, chartArea: a } = chart;
        ctx.save();
        ctx.strokeStyle = '#000';
        ctx.lineWidth = 5 * S;
        ctx.strokeRect(a.left, a.top, a.right - a.left, a.bottom - a.top);
        ctx.restore();
      },
    };
    const titlePlugin = {
      id: 'ytitle' + p.id,
      afterDraw(chart: any) {
        const { ctx, chartArea: a } = chart;
        const mainF = `bold ${50 * S}px ${FONT}`;
        const subF = `bold ${22 * S}px ${FONT}`;
        ctx.save();
        const widths = p.title.map((s) => {
          ctx.font = s.sub ? subF : mainF;
          return ctx.measureText(s.t).width;
        });
        const total = widths.reduce((u, v) => u + v, 0);
        ctx.translate(a.left - p.titleOff * S, (a.top + a.bottom) / 2);
        ctx.rotate(-Math.PI / 2);
        ctx.fillStyle = '#000';
        ctx.textAlign = 'left';
        ctx.textBaseline = 'alphabetic';
        let x = -total / 2;
        p.title.forEach((s, i) => {
          ctx.font = s.sub ? subF : mainF;
          ctx.fillText(s.t, x, s.sub ? 12 * S : 0);
          x += widths[i];
        });
        ctx.restore();
      },
    };
    const gridCommon = {
      color: GRID,
      lineWidth: 3 * S,
      tickColor: '#000',
      tickWidth: 4 * S,
      tickLength: 17 * S,
      drawOnChartArea: true,
      drawTicks: true,
    };
    const chart = new Chart(canvas, {
      type: 'line',
      data: {
        datasets: [
          {
            type: 'scatter',
            data: p.dots.map(([x, y]) => ({ x, y })),
            backgroundColor: RED,
            borderColor: RED,
            borderWidth: 0,
            pointRadius: 12 * S,
            pointHoverRadius: 12 * S,
            order: 1,
            clip: -2.5 * S,
          } as any,
          {
            type: 'line',
            data: p.line.map(([x, y]) => ({ x, y })),
            borderColor: GRAY,
            backgroundColor: GRAY,
            borderWidth: 6.5 * S,
            pointRadius: 0,
            pointHoverRadius: 0,
            tension: 0,
            fill: false,
            borderJoinStyle: 'round',
            borderCapStyle: 'round',
            order: 2,
            clip: -2.5 * S,
          } as any,
        ],
      },
      options: {
        responsive: false,
        animation: false,
        devicePixelRatio: 1,
        events: [],
        layout: { padding: { left: 0, top: padTop, right: padRight, bottom: 0 } },
        plugins: { legend: { display: false }, tooltip: { enabled: false }, title: { display: false } },
        scales: {
          x: {
            type: 'linear',
            min: X_MIN,
            max: X_MAX,
            afterBuildTicks: (ax: any) => {
              ax.ticks = X_TICK_DAYS.map((v) => ({ value: v }));
            },
            afterFit: (ax: any) => {
              ax.height = xAxisH;
            },
            grid: gridCommon,
            border: { display: false, dash: [3 * S, 13.7 * S] },
            ticks: {
              autoSkip: false,
              maxRotation: 0,
              minRotation: 0,
              padding: 3 * S,
              color: '#000',
              font: { family: FONT, size: 55 * S, lineHeight: 53 / 55 },
              callback: (_v: any, i: number) => X_TICK_LABELS[i],
            },
          },
          y: {
            type: 'linear',
            min: p.yMin,
            max: p.yMax,
            afterBuildTicks: (ax: any) => {
              ax.ticks = p.yTicks.map((v) => ({ value: v }));
            },
            afterFit: (ax: any) => {
              ax.width = yAxisW;
            },
            grid: gridCommon,
            border: { display: false, dash: [3 * S, 13.7 * S] },
            ticks: {
              padding: 15 * S,
              color: '#000',
              font: { family: FONT, size: 52 * S },
              callback: (v: any) => String(v),
            },
          },
        },
      } as any,
      plugins: [framePlugin, titlePlugin],
    });
    return () => chart.destroy();
  }, []);

  return (
    <canvas
      ref={ref}
      width={cw}
      height={ch}
      style={{ position: 'absolute', left: x0, top: y0, width: cw, height: ch }}
    />
  );
}

export default function App() {
  return (
    <div
      style={{
        position: 'fixed',
        left: 0,
        top: 0,
        width: 4096,
        height: 1955,
        overflow: 'hidden',
        background: '#ffffff',
      }}
    >
      <div
        style={{
          position: 'absolute',
          left: 30 * S,
          top: 0,
          width: 4096 - 30 * S,
          height: 20 * S,
          background: 'linear-gradient(to right, #d8dafc 0%, #dcdefc 10%, #ededfd 33%, #fefeff 53%, #eeeefd 75%, #dcdcfc 90%, #d8dafc 100%)',
        }}
      />
      <div
        style={{
          position: 'absolute',
          left: 30 * S,
          top: 0,
          width: 46 * S,
          height: 1955,
          background: LAV,
        }}
      />
      {PANELS.map((p) => (
        <PanelChart key={p.id} p={p} />
      ))}
    </div>
  );
}
